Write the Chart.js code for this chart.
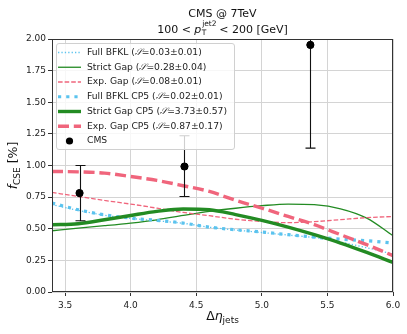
<!DOCTYPE html>
<html><head><meta charset="utf-8">
<script src="https://cdn.jsdelivr.net/npm/chart.js@4"></script>
<style>html,body{margin:0;padding:0;background:#fff}</style>
</head><body>
<canvas id="c" width="407" height="334" style="width:407px;height:334px;display:block"></canvas>
<script>
// ---- data ----
const xGrid        = [3.4, 3.6, 3.8, 4.0, 4.2, 4.4, 4.6, 4.8, 5.0, 5.2, 5.4, 5.6, 5.8, 6.0];
const fullBFKL     = [0.690,0.645,0.607,0.582,0.563,0.543,0.512,0.490,0.470,0.450,0.430,0.395,0.350,0.300];
const strictGap    = [0.484,0.505,0.524,0.545,0.571,0.605,0.637,0.662,0.682,0.695,0.690,0.658,0.584,0.445];
const expGap       = [0.787,0.755,0.724,0.695,0.663,0.629,0.603,0.575,0.558,0.548,0.556,0.572,0.588,0.597];
const fullBFKLCP5  = [0.703,0.650,0.610,0.584,0.566,0.545,0.513,0.492,0.474,0.453,0.434,0.418,0.405,0.387];
const strictGapCP5 = [0.532,0.540,0.571,0.605,0.637,0.656,0.650,0.612,0.566,0.513,0.453,0.387,0.313,0.234];
const expGapCP5    = [0.953,0.950,0.940,0.913,0.882,0.840,0.795,0.725,0.663,0.597,0.532,0.453,0.374,0.287];
const cmsX    = [3.61, 4.41, 5.37];
const cmsY    = [0.782, 0.992, 1.953];
const cmsLow  = [0.563, 0.755, 1.137];
const cmsHigh = [1.000, 1.235, 2.770];
const seriesLabels = ["Full BFKL", "Strict Gap", "Exp. Gap", "Full BFKL CP5", "Strict Gap CP5", "Exp. Gap CP5", "CMS"];
const seriesS = ["0.03±0.01", "0.28±0.04", "0.08±0.01", "0.02±0.01", "3.73±0.57", "0.87±0.17"];
const xTicks = [3.5, 4.0, 4.5, 5.0, 5.5, 6.0];
const yTicks = [0, 0.25, 0.5, 0.75, 1.0, 1.25, 1.5, 1.75, 2.0];

const BLUE = '#5bc3ee', GREEN = '#238b23', RED = '#f0657c';
const FONT = '"DejaVu Sans", sans-serif';

function pts(arr){ return xGrid.map((x,i)=>({x:x, y:arr[i]})); }
function lineDs(label, arr, color, width, dash, order){
  return {type:'line', label, data:pts(arr), borderColor:color, backgroundColor:color,
    borderWidth:width, borderDash:dash, pointRadius:0, pointHoverRadius:0,
    cubicInterpolationMode:'monotone', fill:false, order, borderCapStyle:'butt'};
}
const datasets = [
  lineDs(seriesLabels[0], fullBFKL, BLUE, 1.3, [1.3,2.1], 6),
  lineDs(seriesLabels[1], strictGap, GREEN, 1.3, [], 5),
  lineDs(seriesLabels[2], expGap, RED, 1.3, [4.6,2.0], 4),
  lineDs(seriesLabels[3], fullBFKLCP5, BLUE, 3.2, [3.2,5.0], 3),
  lineDs(seriesLabels[4], strictGapCP5, GREEN, 3.4, [], 2),
  lineDs(seriesLabels[5], expGapCP5, RED, 3.4, [11,4.8], 1),
  {type:'scatter', label:seriesLabels[6], data:cmsX.map((x,i)=>({x, y:cmsY[i]})),
   backgroundColor:'#000', borderColor:'#000', pointRadius:3.6, pointHoverRadius:3.6, order:0}
];

function drawRich(ctx, parts, x, y, align){
  let w = 0;
  parts.forEach(p=>{
    if(p.stack){ p.w = Math.max(...p.stack.map(s=>{ctx.font=s.font; return ctx.measureText(s.t).width;})); }
    else { ctx.font = p.font; p.w = ctx.measureText(p.t).width; }
    w += p.w;
  });
  let cx = align==='center' ? x - w/2 : x;
  parts.forEach(p=>{
    if(p.stack){ p.stack.forEach(s=>{ ctx.font=s.font; ctx.fillText(s.t, cx + (s.dx||0), y + (s.dy||0)); }); }
    else { ctx.font = p.font; ctx.fillText(p.t, cx, y + (p.dy||0)); }
    cx += p.w;
  });
}

const deco = {
  id:'deco',
  afterDatasetsDraw(chart){
    const ctx = chart.ctx, xs = chart.scales.x, ys = chart.scales.y, a = chart.chartArea;
    ctx.save();
    ctx.beginPath(); ctx.rect(a.left, a.top, a.right-a.left, a.bottom-a.top); ctx.clip();
    ctx.strokeStyle = '#111'; ctx.lineWidth = 1.1;
    cmsX.forEach((x,i)=>{
      const px = Math.round(xs.getPixelForValue(x))+0.5;
      const yl = ys.getPixelForValue(cmsLow[i]), yh = ys.getPixelForValue(cmsHigh[i]);
      ctx.beginPath(); ctx.moveTo(px, yl); ctx.lineTo(px, yh);
      ctx.moveTo(px-5, yl); ctx.lineTo(px+5, yl);
      ctx.moveTo(px-5, yh); ctx.lineTo(px+5, yh);
      ctx.stroke();
      ctx.fillStyle='#000'; ctx.beginPath(); ctx.arc(xs.getPixelForValue(x), ys.getPixelForValue(cmsY[i]), 3.6, 0, Math.PI*2); ctx.fill();
    });
    ctx.restore();
  },
  afterDraw(chart){
    const ctx = chart.ctx, a = chart.chartArea;
    ctx.save();
    // frame
    ctx.strokeStyle = '#333'; ctx.lineWidth = 1;
    ctx.strokeRect(a.left+0.5, a.top+0.5, a.right-a.left-1, a.bottom-a.top-1);
    // legend
    const lx = 56, ly = 43, lw = 178, lh = 106;
    ctx.fillStyle = 'rgba(255,255,255,0.8)';
    ctx.strokeStyle = '#d0d0d0'; ctx.lineWidth = 1;
    ctx.beginPath(); ctx.roundRect(lx+0.5, ly+0.5, lw, lh, 2.5); ctx.fill(); ctx.stroke();
    ctx.textBaseline = 'middle'; ctx.textAlign = 'left'; ctx.fillStyle = '#222';
    for(let i=0;i<7;i++){
      const ry = 52.5 + i*14.75;
      const ds = chart.data.datasets[i];
      if(i<6){
        ctx.strokeStyle = ds.borderColor; ctx.lineWidth = ds.borderWidth; ctx.setLineDash(ds.borderDash); ctx.lineCap='butt';
        ctx.beginPath(); ctx.moveTo(58, ry); ctx.lineTo(81, ry); ctx.stroke(); ctx.setLineDash([]);
        ctx.fillStyle = '#222';
        drawRich(ctx, [
          {t: ds.label + ' (', font: '9.2px '+FONT},
          {t: '𝒮', font: 'italic 9.2px "DejaVu Serif", serif'},
          {t: '=' + seriesS[i] + ')', font: '9.2px '+FONT}
        ], 87, ry, 'left');
      } else {
        ctx.fillStyle = '#000'; ctx.beginPath(); ctx.arc(69.5, ry, 3.6, 0, Math.PI*2); ctx.fill();
        ctx.fillStyle = '#222'; ctx.font = '9.2px '+FONT; ctx.fillText(ds.label, 87, ry);
      }
    }
    // titles
    ctx.fillStyle = '#111'; ctx.textBaseline = 'alphabetic';
    const cx = (a.left + a.right)/2;
    ctx.font = '11px '+FONT; ctx.textAlign = 'center';
    ctx.fillText('CMS @ 7TeV', cx, 16.5);
    ctx.textAlign = 'left';
    drawRich(ctx, [
      {t:'100 < ', font:'11px '+FONT},
      {t:'p', font:'italic 11px '+FONT},
      {stack:[{t:'T', font:'7.5px '+FONT, dy:2.5, dx:0.5},{t:'jet2', font:'7.5px '+FONT, dy:-7, dx:0.8}]},
      {t:' < 200 [GeV]', font:'11px '+FONT}
    ], cx, 32.5, 'center');
    // x label
    drawRich(ctx, [
      {t:'Δ', font:'12.5px '+FONT},
      {t:'η', font:'italic 12.5px '+FONT},
      {t:'jets', font:'9px '+FONT, dy:3}
    ], cx, 320, 'center');
    // y label
    ctx.translate(17, (a.top+a.bottom)/2); ctx.rotate(-Math.PI/2);
    drawRich(ctx, [
      {t:'f', font:'italic 12.5px '+FONT},
      {t:'CSE', font:'9px '+FONT, dy:3},
      {t:' [%]', font:'12.5px '+FONT}
    ], 0, 0, 'center');
    ctx.restore();
  }
};

new Chart(document.getElementById('c'), {
  type:'line',
  data:{datasets},
  options:{
    responsive:false, animation:false, devicePixelRatio:1,
    layout:{padding:{left:0, right:14, top:39, bottom:0}},
    plugins:{legend:{display:false}, tooltip:{enabled:false}, title:{display:false}},
    scales:{
      x:{type:'linear', min:3.4, max:6.0,
        afterBuildTicks(s){ s.ticks = xTicks.map(v=>({value:v})); },
        afterFit(s){ s.height = 42; },
        grid:{color:'#d4d4d4', lineWidth:1, tickLength:4, tickColor:'#333', drawTicks:true},
        border:{display:false},
        ticks:{font:{family:'DejaVu Sans', size:9}, color:'#222', padding:4, maxRotation:0,
          callback:v=>Number(v).toFixed(1)}
      },
      y:{type:'linear', min:0, max:2.0,
        afterBuildTicks(s){ s.ticks = yTicks.map(v=>({value:v})); },
        afterFit(s){ s.width = 52; },
        grid:{color:'#d4d4d4', lineWidth:1, tickLength:4, tickColor:'#333', drawTicks:true},
        border:{display:false},
        ticks:{font:{family:'DejaVu Sans', size:9}, color:'#222', padding:2,
          callback:v=>Number(v).toFixed(2)}
      }
    }
  },
  plugins:[deco]
});
</script>
</body></html>
